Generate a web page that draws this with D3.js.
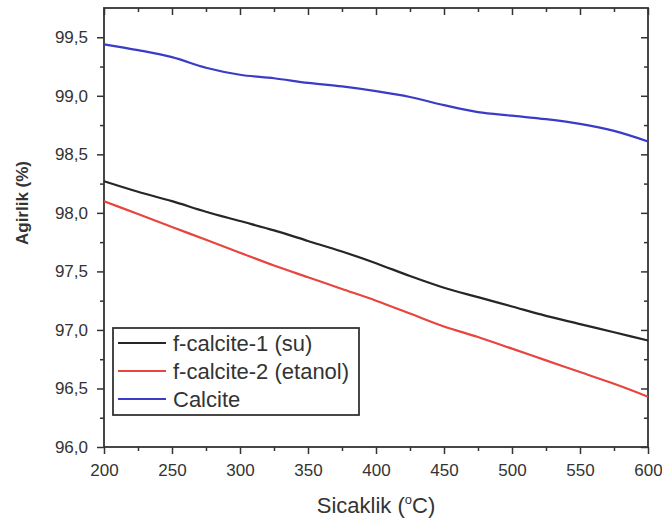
<!DOCTYPE html>
<html>
<head>
    <meta charset="utf-8" />
    <title>Agirlik - Sicaklik</title>
    <script src="https://cdn.jsdelivr.net/npm/d3@7/dist/d3.min.js" charset="utf-8"></script>
    <style>
        body { margin: 0; background: #fff; }
        text { font-family: "Liberation Sans", Arial, sans-serif; fill: #333; }
    </style>
</head>
<body>
</body>
<script charset="utf-8">

    // data
    var temps = [200,225,250,275,300,325,350,375,400,425,450,475,500,525,550,575,600];
    var su = [98.27,98.18,98.10,98.01,97.93,97.85,97.76,97.67,97.57,97.46,97.36,97.28,97.20,97.12,97.05,96.98,96.91];
    var etanol = [98.10,97.99,97.88,97.77,97.66,97.55,97.45,97.35,97.25,97.14,97.03,96.94,96.84,96.74,96.64,96.54,96.43];
    var calcite = [99.44,99.39,99.33,99.24,99.18,99.15,99.11,99.08,99.04,98.99,98.92,98.86,98.83,98.80,98.76,98.70,98.61];
    var seriesNames = ['f-calcite-1 (su)','f-calcite-2 (etanol)','Calcite'];
    var xTicks = [200,250,300,350,400,450,500,550,600];
    var yTicks = [96.0,96.5,97.0,97.5,98.0,98.5,99.0,99.5];

    var width = 662, height = 520;
    var pLeft = 104, pRight = 648, pTop = 8, pBottom = 447; // plot frame
    var svg = d3.select('body').append('svg').attr('width',width).attr('height',height);

    var x = d3.scaleLinear().domain([200,600]).range([pLeft,pRight]);
    var y = d3.scaleLinear().domain([96,99.75]).range([pBottom,pTop]);

    var colors = ['#262626','#e8453f','#3b3bc8'];
    var series = [su, etanol, calcite];

    var minorX = d3.range(225,600,50);
    var minorY = d3.range(96.25,99.75,0.5);
    var fmt = function(d){ return d3.format('.1f')(d).replace('.',','); };

    function styleAxis(g){
        g.select('.domain').remove();
        g.selectAll('line').attr('stroke','#333').attr('stroke-width',1.5);
        g.selectAll('text').style('font-size','17px').attr('fill','#3a3a3a');
    }
    // bottom / left axes (ticks outward)
    svg.append('g').attr('transform','translate(0,'+pBottom+')')
        .call(d3.axisBottom(x).tickValues(xTicks).tickSize(7).tickPadding(10).tickFormat(d3.format('d'))).call(styleAxis);
    svg.append('g').attr('transform','translate(0,'+pBottom+')')
        .call(d3.axisBottom(x).tickValues(minorX).tickSize(4).tickFormat('')).call(styleAxis);
    svg.append('g').attr('transform','translate('+pLeft+',0)')
        .call(d3.axisLeft(y).tickValues(yTicks).tickSize(7).tickPadding(9).tickFormat(fmt)).call(styleAxis);
    svg.append('g').attr('transform','translate('+pLeft+',0)')
        .call(d3.axisLeft(y).tickValues(minorY).tickSize(4).tickFormat('')).call(styleAxis);

    // top / right axes (ticks inward, no labels)
    svg.append('g').attr('transform','translate(0,'+pTop+')')
        .call(d3.axisTop(x).tickValues(xTicks).tickSize(-7).tickFormat('')).call(styleAxis);
    svg.append('g').attr('transform','translate(0,'+pTop+')')
        .call(d3.axisTop(x).tickValues(minorX).tickSize(-4).tickFormat('')).call(styleAxis);
    svg.append('g').attr('transform','translate('+pRight+',0)')
        .call(d3.axisRight(y).tickValues(yTicks).tickSize(-7).tickFormat('')).call(styleAxis);
    svg.append('g').attr('transform','translate('+pRight+',0)')
        .call(d3.axisRight(y).tickValues(minorY).tickSize(-4).tickFormat('')).call(styleAxis);

    // frame
    svg.append('rect').attr('x',pLeft).attr('y',pTop).attr('width',pRight-pLeft).attr('height',pBottom-pTop)
        .attr('fill','none').attr('stroke','#333').attr('stroke-width',1.8);

    // curves
    var line = d3.line().curve(d3.curveMonotoneX)
        .x(function(d,i){ return x(temps[i]); })
        .y(function(d){ return y(d); });

    svg.selectAll('path.curve').data(series).enter().append('path')
        .attr('class','curve')
        .attr('d',function(d){ return line(d); })
        .attr('fill','none')
        .attr('stroke-width',2.2)
        .attr('stroke',function(d,i){ return colors[i]; });

    // axis titles
    var xt = svg.append('text').attr('x',(pLeft+pRight)/2).attr('y',513)
        .attr('text-anchor','middle').style('font-size','22px');
    xt.append('tspan').text('Sicaklik (');
    xt.append('tspan').text('o').style('font-size','13px').attr('dy',-9);
    xt.append('tspan').text('C)').attr('dy',9);

    svg.append('text').attr('transform','translate(28,203) rotate(-90)')
        .attr('text-anchor','middle').style('font-size','17px').style('font-weight','bold')
        .text('Agirlik (%)');

    // legend
    var lg = svg.append('g');
    lg.append('rect').attr('x',113).attr('y',328).attr('width',246).attr('height',87)
        .attr('fill','#fff').attr('stroke','#333').attr('stroke-width',1.8);
    var rows = lg.selectAll('g.row').data(seriesNames).enter().append('g')
        .attr('class','row')
        .attr('transform',function(d,i){ return 'translate(0,'+(343+i*28)+')'; });
    rows.append('line').attr('x1',118).attr('x2',166).attr('y1',0).attr('y2',0)
        .attr('stroke-width',2.2)
        .attr('stroke',function(d,i){ return colors[i]; });
    rows.append('text').attr('x',173).attr('y',8).style('font-size','22px')
        .text(function(d){ return d; });

</script>
</html>
